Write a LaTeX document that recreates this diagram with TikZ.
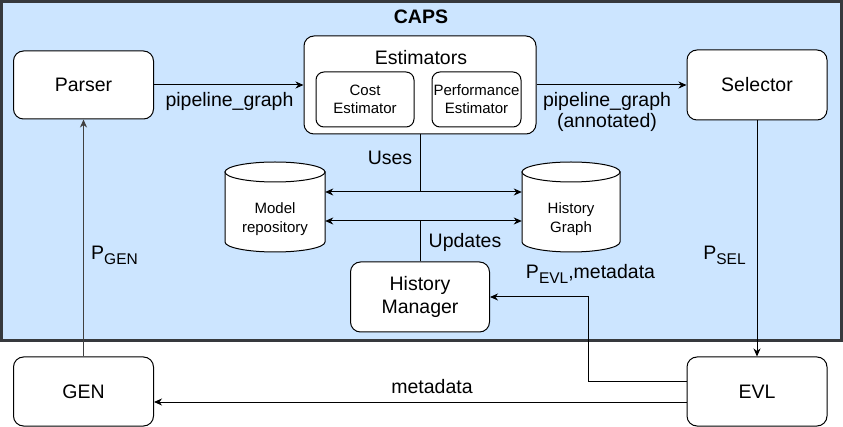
\documentclass[tikz,border=0pt]{standalone}
\usepackage{fontspec}
\setmainfont{Liberation Sans}
\usetikzlibrary{arrows.meta,calc}
\definecolor{capsfill}{HTML}{CCE5FF}
\definecolor{capsline}{HTML}{36393D}
\newcommand\subs[1]{\raisebox{-5pt}{\fontsize{15.5}{15.5}\selectfont #1}}
\newcommand\drawcyl[4]{%
  \draw[fill=white,line width=1pt] ({#1-#3},{#2-#4+10}) -- ({#1-#3},{#2+#4-10})
    .. controls ({#1-#3},{#2+#4-4.477}) and ({#1-0.5523*#3},{#2+#4}) .. ({#1},{#2+#4})
    .. controls ({#1+0.5523*#3},{#2+#4}) and ({#1+#3},{#2+#4-4.477}) .. ({#1+#3},{#2+#4-10})
    -- ({#1+#3},{#2-#4+10}) -- cycle;
  \draw[fill=white,line width=1pt] (#1,{#2-#4+10}) ellipse [x radius=#3, y radius=10];
}
\begin{document}
\begin{tikzpicture}[x=1pt,y=-1pt,
  box/.style={draw=black, fill=white, rounded corners=10pt, line width=1pt, align=center,
    font=\fontsize{19.5}{23}\selectfont, inner sep=0pt},
  smallbox/.style={draw=black, fill=white, rounded corners=8pt, line width=1pt, align=center,
    font=\fontsize{15}{18}\selectfont, inner sep=0pt},
  lbl/.style={align=center, font=\fontsize{19.5}{21}\selectfont, inner sep=0pt},
  cyltext/.style={align=center, font=\fontsize{15}{19}\selectfont, inner sep=0pt},
  conn/.style={line width=1pt, draw=black},
  arr/.style={conn, -{Stealth[length=8pt,width=7pt,inset=2.5pt]}},
  darr/.style={conn, {Stealth[length=8pt,width=7pt,inset=2.5pt]}-{Stealth[length=8pt,width=7pt,inset=2.5pt]}}
]
\useasboundingbox (0,0) rectangle (843,427);
% CAPS container
\draw[fill=capsfill, draw=capsline, line width=3pt] (1.5,1.5) rectangle (841.5,340.5);
\node[font=\bfseries\fontsize{19.5}{23}\selectfont] (capstitle) at (421,17) {CAPS};

% main boxes
\node[box, minimum width=140pt, minimum height=68pt] (parser) at (83.5,85) {Parser};
\node[box, minimum width=232pt, minimum height=98pt] (est) at (420,85) {};
\node[lbl] (esttitle) at (421,58) {Estimators};
\node[smallbox, minimum width=98pt, minimum height=55pt] (cost) at (365,99.5) {Cost\\Estimator};
\node[smallbox, minimum width=89pt, minimum height=55pt] (perf) at (476.5,99.5) {Performance\\Estimator};
\node[box, minimum width=140pt, minimum height=70pt] (sel) at (757,85) {Selector};
\node[box, minimum width=139pt, minimum height=70pt] (hm) at (420,297) {History\\Manager};
\node[box, minimum width=140pt, minimum height=69pt] (gen) at (83.5,391.5) {GEN};
\node[box, minimum width=140pt, minimum height=69pt] (evl) at (757,391.5) {EVL};

% cylinders
\drawcyl{275}{207}{50}{45}
\drawcyl{571}{207}{49}{45}
\node[minimum width=100pt, minimum height=90pt, inner sep=0pt] (mr) at (275,207) {};
\node[minimum width=98pt, minimum height=90pt, inner sep=0pt] (hg) at (571,207) {};
\node[cyltext] (mrt) at (275,219) {Model\\repository};
\node[cyltext] (hgt) at (571,219) {History\\Graph};

% connectors
\coordinate (j1) at (420,192);
\coordinate (j2) at (420,221);
\coordinate (c1) at (588,297);
\draw[arr] (parser.east) -- (est.west);
\draw[arr] (est.east) -- (sel.west);
\draw[arr] (sel.south) -- (evl.north);
\draw[arr, draw=black!75] (gen.north) -- (parser.south);
\draw[conn] (est.south) -- (j1);
\draw[conn] (hm.north) -- (j2);
\draw[darr] ($(mr.east)+(0,-15)$) -- ($(hg.west)+(0,-15)$);
\draw[darr] ($(mr.east)+(0,14)$) -- ($(hg.west)+(0,14)$);
\draw[arr] ($(evl.west)+(0,-10.5)$) -| (c1) -- (hm.east);
\draw[arr] ($(evl.west)+(0,10.5)$) -- ($(gen.east)+(0,10.5)$);

% labels
\node[lbl] (l1) at (229.5,101) {pipeline\_graph};
\node[lbl] (l2) at (607,112) {pipeline\_graph\\(annotated)};
\node[lbl] (l3) at (390,158) {Uses};
\node[lbl] (l4) at (465,242) {Updates};
\node[lbl] (l5) at (114.5,255) {P\subs{GEN}};
\node[lbl] (l6) at (724.5,255) {P\subs{SEL}};
\node[lbl] (l7) at (590.5,274) {P\subs{EVL},metadata};
\node[lbl] (l8) at (432,387) {metadata};
\end{tikzpicture}
\end{document}
